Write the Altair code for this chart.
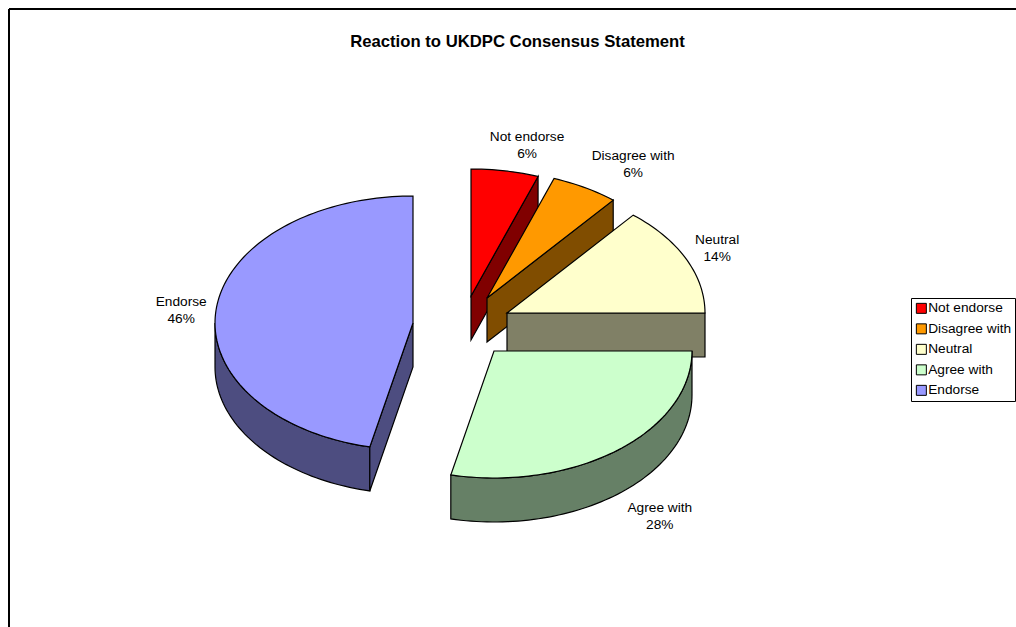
import math
import altair as alt
import pandas as pd

CANVAS_W, CANVAS_H = 1016, 627
FONT = "Liberation Sans"

# Survey responses, listed clockwise from twelve o'clock
categories = ["Not endorse", "Disagree with", "Neutral", "Agree with", "Endorse"]
shares = [5.5, 5.5, 14.0, 28.5, 46.5]
top_colors = ["#FF0000", "#FF9900", "#FFFFCC", "#CCFFCC", "#9999FF"]
side_colors = ["#800000", "#804D00", "#808066", "#668066", "#4D4D80"]

# Tilted-pie layout: ellipse radii, extrusion depth, and each exploded slice's apex
RX, RY, DEPTH = 198, 127, 44
apex_x = [471, 487, 507, 494, 413]
apex_y = [296, 298, 313, 351, 323]
# Label offset from the middle of each slice's rim
label_dx = [22, 48, 31, 42, -35]
label_dy = [-34, -32, -19, 14, -7]


def rim(cx, cy, deg, drop=0.0):
    t = math.radians(deg)
    return [cx + RX * math.sin(t), cy - RY * math.cos(t) + drop]


def arc(cx, cy, a, b, drop=0.0):
    n = max(2, int(abs(b - a) / 1.5))
    return [rim(cx, cy, a + (b - a) * i / n, drop) for i in range(n + 1)]


def feature(ring, name):
    ring = ring + [ring[0]]
    return {
        "type": "Feature",
        "properties": {"name": name},
        "geometry": {"type": "Polygon", "coordinates": [ring]},
    }


color_scale = alt.Scale(domain=categories, range=top_colors)


def shape_layer(features, fill=None):
    if fill is not None:
        mark = alt.Chart(alt.Data(values=features)).mark_geoshape(
            fill=fill, stroke="black", strokeWidth=1.2
        )
    else:
        mark = alt.Chart(alt.Data(values=features)).mark_geoshape(
            stroke="black", strokeWidth=1.2
        ).encode(
            color=alt.Color(
                "properties.name:N",
                scale=color_scale,
                legend=alt.Legend(
                    title=None,
                    orient="none",
                    legendX=911,
                    legendY=298,
                    padding=3.5,
                    strokeColor="black",
                    fillColor="white",
                    symbolType="square",
                    symbolSize=100,
                    symbolStrokeColor="black",
                    symbolStrokeWidth=1,
                    symbolOpacity=1,
                    labelFont=FONT,
                    labelFontSize=13.7,
                    labelColor="black",
                    labelOffset=0,
                    rowPadding=5.5,
                    labelLimit=200,
                ),
            )
        )
    return mark.project(type="identity", scale=1, translate=[0, 0])


layers = []
label_rows = []
total = sum(shares)
start = 0.0
for i, name in enumerate(categories):
    a = start
    b = start + shares[i] / total * 360
    start = b
    cx, cy = apex_x[i], apex_y[i]

    # Extruded faces that can be seen from above, painted before the top face
    sides = []
    lo, hi = max(a, 90), min(b, 270)
    if lo < hi:
        sides.append(arc(cx, cy, lo, hi) + arc(cx, cy, hi, lo, DEPTH))
    if b < 180:
        sides.append(
            [[cx, cy], rim(cx, cy, b), rim(cx, cy, b, DEPTH), [cx, cy + DEPTH]]
        )
    if a > 180:
        sides.append(
            [[cx, cy], rim(cx, cy, a), rim(cx, cy, a, DEPTH), [cx, cy + DEPTH]]
        )
    if sides:
        layers.append(shape_layer([feature(s, name) for s in sides], side_colors[i]))

    top = [[cx, cy]] + arc(cx, cy, a, b)
    layers.append(shape_layer([feature(top, name)]))

    mid = (a + b) / 2
    mx, my = rim(cx, cy, mid, DEPTH if 90 < mid < 270 else 0)
    label_rows.append(
        {
            "x": mx + label_dx[i],
            "y": my + label_dy[i],
            "text": f"{name}\n{round(shares[i])}%",
        }
    )

x_enc = alt.X("x:Q", axis=None, scale=alt.Scale(domain=[0, CANVAS_W], range=[0, CANVAS_W]))
y_enc = alt.Y("y:Q", axis=None, scale=alt.Scale(domain=[0, CANVAS_H], range=[0, CANVAS_H]))

labels = (
    alt.Chart(pd.DataFrame(label_rows))
    .mark_text(
        font=FONT, fontSize=13.7, color="black", align="center",
        baseline="middle", lineBreak="\n", lineHeight=17,
    )
    .encode(x=x_enc, y=y_enc, text="text:N")
)

# Chart-area border; its right and bottom sides fall past the edge of the page
frame_top = alt.Chart().mark_rule(color="black", strokeWidth=2).encode(
    x=alt.value(9), x2=alt.value(CANVAS_W), y=alt.value(9)
)
frame_left = alt.Chart().mark_rule(color="black", strokeWidth=2).encode(
    x=alt.value(9), y=alt.value(9), y2=alt.value(CANVAS_H)
)

chart = (
    alt.layer(frame_top, frame_left, *layers, labels)
    .resolve_scale(color="shared")
    .properties(
        width=CANVAS_W,
        height=CANVAS_H,
        padding=0,
        autosize=alt.AutoSizeParams(type="none"),
        background="white",
        title=alt.TitleParams(
            "Reaction to UKDPC Consensus Statement",
            font=FONT,
            fontSize=16.7,
            fontWeight="bold",
            color="black",
            anchor="middle",
            baseline="middle",
            offset=-59,
            dx=9.5,
        ),
    )
    .configure_view(stroke=None)
)

chart.save("out.html", embed_options={"renderer": "svg", "actions": False})
